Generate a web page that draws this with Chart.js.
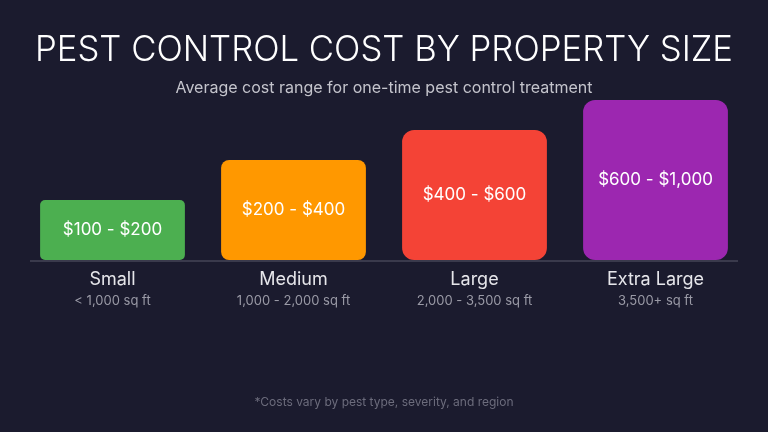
<!DOCTYPE html>
<html>
<head>
<meta charset="utf-8">
<script src="https://cdn.jsdelivr.net/npm/chart.js@4"></script>
<style>
  html, body { margin: 0; padding: 0; background: #1b1b2e; }
  #wrap { width: 768px; height: 432px; }
</style>
</head>
<body>
<div id="wrap"><canvas id="costChart" width="768" height="432"></canvas></div>
<script>
// --- DATA ---
const categories = ["Small", "Medium", "Large", "Extra Large"];
const sizeLabels = ["< 1,000 sq ft", "1,000 - 2,000 sq ft", "2,000 - 3,500 sq ft", "3,500+ sq ft"];
const priceLabels = ["$100 - $200", "$200 - $400", "$400 - $600", "$600 - $1,000"];
const barHeights = [60, 100, 130, 160]; // relative bar heights as drawn
const barColors = ["#4caf50", "#ff9800", "#f44336", "#9c27b0"];

const titleText = "PEST CONTROL COST BY PROPERTY SIZE";
const subtitleText = "Average cost range for one-time pest control treatment";
const footnoteText = "*Costs vary by pest type, severity, and region";

// draws titles, labels and the baseline around the bars
const decorPlugin = {
  id: "decor",
  afterDatasetsDraw(chart) {
    const ctx = chart.ctx;
    const x = chart.scales.x;
    const area = chart.chartArea;
    const meta = chart.getDatasetMeta(0);
    ctx.save();
    ctx.textAlign = "center";
    ctx.textBaseline = "middle";

    // baseline
    ctx.strokeStyle = "#3a3a4c";
    ctx.lineWidth = 2;
    ctx.beginPath();
    ctx.moveTo(30, area.bottom + 1);
    ctx.lineTo(738, area.bottom + 1);
    ctx.stroke();

    // title, squeezed to the reference width
    ctx.fillStyle = "#ffffff";
    ctx.font = "300 35px Inter";
    const w = ctx.measureText(titleText).width;
    const sx = Math.min(1, 698 / w);
    ctx.save();
    ctx.translate(384, 50);
    ctx.scale(sx, 1);
    ctx.fillText(titleText, 0, 0);
    ctx.restore();

    ctx.fillStyle = "#c4c4cc";
    ctx.font = "16px Inter";
    ctx.fillText(subtitleText, 384, 88);

    // labels
    meta.data.forEach((bar, i) => {
      const cx = x.getPixelForValue(i);
      ctx.fillStyle = "#ffffff";
      ctx.font = "17px Inter";
      ctx.fillText(priceLabels[i], cx, (bar.y + bar.base) / 2);
      ctx.fillStyle = "#e6e6ea";
      ctx.font = "18px Inter";
      ctx.fillText(categories[i], cx, area.bottom + 20);
      ctx.fillStyle = "#9a9aa6";
      ctx.font = "13px Inter";
      ctx.fillText(sizeLabels[i], cx, area.bottom + 41);
    });

    ctx.fillStyle = "#6c6c7c";
    ctx.font = "12px Inter";
    ctx.fillText(footnoteText, 384, 402);
    ctx.restore();
  },
};

new Chart(document.getElementById("costChart"), {
  type: "bar",
  data: {
    labels: categories,
    datasets: [
      {
        data: barHeights,
        backgroundColor: barColors,
        borderRadius: [5, 8, 12, 12],
        borderSkipped: false,
        barPercentage: 0.8,
        categoryPercentage: 1,
      },
    ],
  },
  options: {
    responsive: false,
    animation: false,
    layout: { padding: { top: 100, bottom: 172, left: 22, right: 22 } },
    scales: {
      x: { display: false },
      y: { display: false, min: 0, max: 160 },
    },
    plugins: {
      legend: { display: false },
      tooltip: { enabled: false },
    },
  },
  plugins: [decorPlugin],
});
</script>
</body>
</html>
